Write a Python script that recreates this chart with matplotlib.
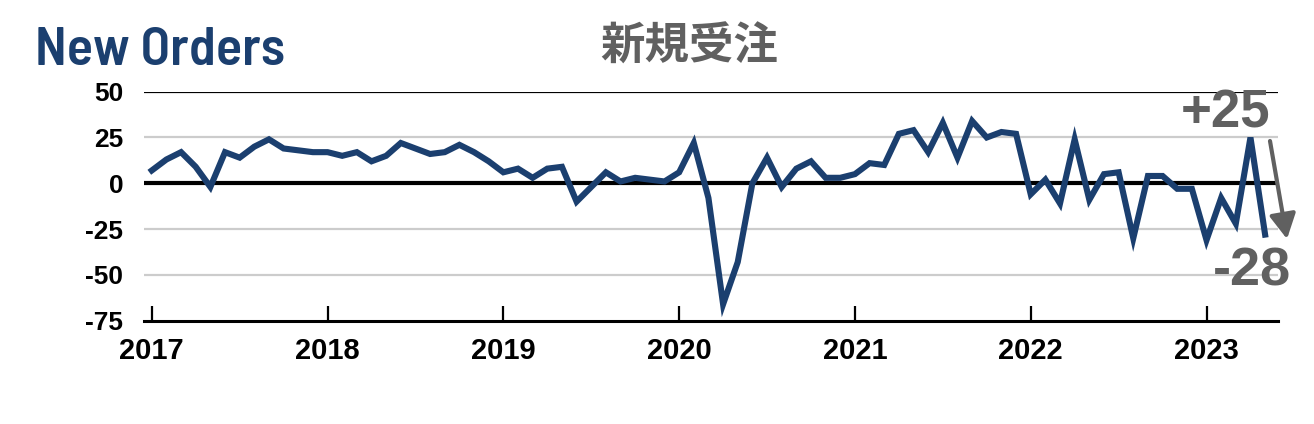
import matplotlib
matplotlib.use("Agg")
import matplotlib.pyplot as plt
import numpy as np
from matplotlib import font_manager
from matplotlib.textpath import TextPath

# ---- data ----
years = ["2017", "2018", "2019", "2020", "2021", "2022", "2023"]
v2017 = [7, 13, 17, 9, -2, 17, 14, 20, 24, 19, 18, 17]
v2018 = [17, 15, 17, 12, 15, 22, 19, 16, 17, 21, 17, 12]
v2019 = [6, 8, 3, 8, 9, -10, -2, 6, 1, 3, 2, 1]
v2020 = [6, 22, -8, -66, -43, 0, 14, -2, 8, 12, 3, 3]
v2021 = [5, 11, 10, 27, 29, 17, 33, 14, 34, 25, 28, 27]
v2022 = [-6, 2, -11, 24, -9, 5, 6, -30, 4, 4, -3, -3]
v2023 = [-31, -8, -22, 25, -28]
values = v2017 + v2018 + v2019 + v2020 + v2021 + v2022 + v2023
yticks = [50, 25, 0, -25, -50, -75]
label_up = "+25"
label_down = "-28"
title_en = "New Orders"
title_jp = "新規受注"

NAVY = "#1b3f6f"
GRAY = "#606060"
NUMFONT = ["Liberation Sans", "DejaVu Sans"]


def wnum(w):
    if isinstance(w, int):
        return w
    return {"bold": 700, "semibold": 600, "demibold": 600, "medium": 500,
            "heavy": 800, "black": 900, "light": 300, "thin": 100}.get(str(w).lower(), 400)


# choose a font whose proportions fit the condensed title best
TARGET_RATIO = 248 / 38.0
best = None
for f in font_manager.fontManager.ttflist:
    if f.style != "normal":
        continue
    if not ("Narrow" in f.name or "Cond" in f.name
            or f.stretch in ("condensed", "semi-condensed", "extra-condensed")
            or f.name in ("Roboto", "Liberation Sans")):
        continue
    try:
        fp = font_manager.FontProperties(fname=f.fname, size=100)
        w = TextPath((0, 0), title_en, prop=fp).get_extents().width
        h = TextPath((0, 0), "N", prop=fp).get_extents().height
    except Exception:
        continue
    score = abs(w / h - TARGET_RATIO) / TARGET_RATIO + 0.0004 * abs(wnum(f.weight) - 600)
    if best is None or score < best[0]:
        best = (score, f.fname, h)

if best is not None:
    size = 38 * 72 / best[2]
    title_kw = dict(fontproperties=font_manager.FontProperties(fname=best[1], size=size))
else:
    title_kw = dict(family=["Roboto", "DejaVu Sans"], fontsize=36)

fig = plt.figure(figsize=(13.14, 4.24), dpi=100)
ax = fig.add_axes([144/1314, 1-320.7/424, (1278-144)/1314, (320.7-91.7)/424])

x = np.arange(len(values))
ax.plot(x, values, color=NAVY, lw=4.4, solid_joinstyle="miter", zorder=5, clip_on=False)

ax.set_ylim(-75, 50)
ax.set_xlim(-0.53, 76.88)

for yv in [25, -25, -50]:
    ax.axhline(yv, color="#cccccc", lw=1.6, zorder=1)
ax.axhline(50, color="black", lw=1.6, zorder=2)
ax.axhline(0, color="black", lw=3.0, zorder=2)

for s in ["top", "right", "left"]:
    ax.spines[s].set_visible(False)
ax.spines["bottom"].set_linewidth(2.2)

ax.set_yticks(yticks)
ax.set_yticklabels([str(v) for v in yticks], fontsize=19, fontweight="bold", family=NUMFONT)
ax.tick_params(axis="y", length=0, pad=15)

ax.set_xticks(np.arange(len(years)) * 12)
ax.set_xticklabels(years, fontsize=21, fontweight="bold", family=NUMFONT)
ax.tick_params(axis="x", direction="in", length=11, width=1.6, pad=12)

fig.text(35/1314, 1-65/424, title_en, color=NAVY, va="baseline", ha="left", **title_kw)
fig.text(689/1314, 1-47/424, title_jp, color=GRAY, fontsize=32, fontweight="bold",
         family=["Noto Sans CJK JP", "DejaVu Sans"], va="center", ha="center")

fig.text(1226/1314, 1-113/424, label_up, color=GRAY, fontsize=38, fontweight="bold",
         family=NUMFONT, va="center", ha="center")
fig.text(1252/1314, 1-271/424, label_down, color=GRAY, fontsize=39, fontweight="bold",
         family=NUMFONT, va="center", ha="center")
ax.annotate("", xy=(1287/1314, 1-239/424), xytext=(1270/1314, 1-141/424),
            xycoords="figure fraction", textcoords="figure fraction",
            arrowprops=dict(arrowstyle="-|>,head_length=1.5,head_width=0.8",
                            color=GRAY, lw=3, shrinkA=0, shrinkB=0),
            annotation_clip=False)

fig.savefig("out.png", dpi=100)
